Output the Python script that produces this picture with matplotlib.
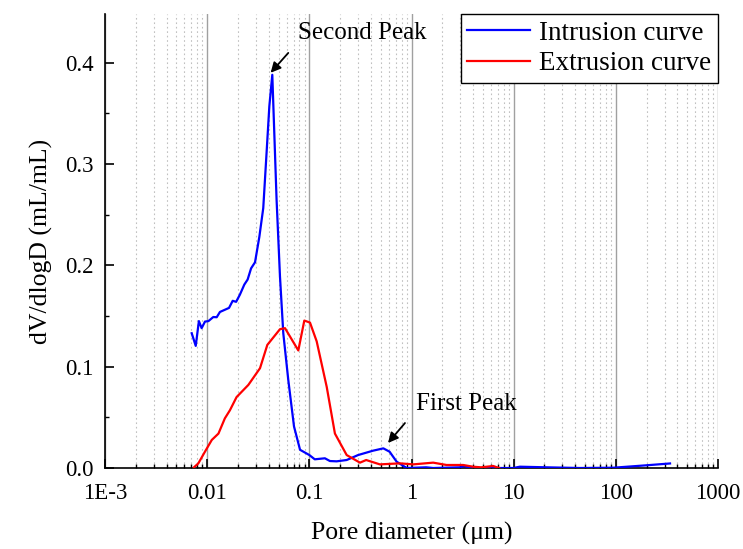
import matplotlib
matplotlib.use("Agg")
import matplotlib.pyplot as plt
from matplotlib.ticker import FixedLocator, LogLocator, MultipleLocator, NullFormatter

plt.rcParams['font.family'] = ['Liberation Serif', 'DejaVu Serif']
plt.rcParams['mathtext.fontset'] = 'stix'

# Intrusion curve: pore diameter (um) and dV/dlogD (mL/mL)
intrusion_d = [0.00706, 0.00773, 0.0083, 0.00883, 0.00952, 0.0103, 0.01148, 0.0124,
               0.01334, 0.01637, 0.01778, 0.0192, 0.0209, 0.0231, 0.0249, 0.0269,
               0.0294, 0.0324, 0.0354, 0.0383, 0.0406, 0.0434, 0.0478, 0.0516,
               0.0556, 0.0622, 0.0708, 0.0811, 0.1, 0.113, 0.142, 0.159, 0.185,
               0.232, 0.30, 0.42, 0.53, 0.61, 0.716, 0.898, 1.39, 1.63, 3.0, 3.3,
               3.7, 9.9, 11.5, 20.9, 44.6, 94.4, 200, 339]
intrusion_v = [0.133, 0.1205, 0.145, 0.138, 0.1445, 0.145, 0.149, 0.1488,
               0.154, 0.158, 0.165, 0.164, 0.171, 0.181, 0.186, 0.197,
               0.203, 0.228, 0.2565, 0.314, 0.357, 0.388, 0.2647, 0.189,
               0.133, 0.087, 0.041, 0.018, 0.0128, 0.0086, 0.0096, 0.0069, 0.0066,
               0.0079, 0.0128, 0.0171, 0.0194, 0.0161, 0.0062, 0.0, 0.0007, 0.0, 0.0007, 0.002,
               0.0, 0.0, 0.0013, 0.0007, 0.0, 0.0003, 0.0027, 0.0045]

# Extrusion curve
extrusion_d = [0.00743, 0.0082, 0.0095, 0.0111, 0.0129, 0.0149, 0.0167, 0.0194,
               0.0253, 0.0329, 0.0388, 0.0516, 0.0578, 0.078, 0.0893, 0.1015,
               0.118, 0.148, 0.178, 0.232, 0.313, 0.36, 0.49, 0.77, 1.04, 1.63,
               2.2, 3.2, 4.0, 4.8, 6.3, 7.2]
extrusion_v = [0.0007, 0.0046, 0.016, 0.0277, 0.034, 0.049, 0.057, 0.070,
               0.082, 0.0985, 0.1215, 0.137, 0.138, 0.116, 0.1455, 0.1435,
               0.125, 0.080, 0.034, 0.0128, 0.0053, 0.0079, 0.0036, 0.0046, 0.0036, 0.0053,
               0.003, 0.003, 0.0013, 0.0007, 0.002, 0.0]

x_ticks = [1e-3, 1e-2, 1e-1, 1, 10, 100, 1000]
x_tick_labels = ["1E-3", "0.01", "0.1", "1", "10", "100", "1000"]
y_ticks = [0.0, 0.1, 0.2, 0.3, 0.4]
y_tick_labels = ["0.0", "0.1", "0.2", "0.3", "0.4"]

fig = plt.figure(figsize=(7.43, 5.49), dpi=100)
ax = fig.add_axes([0.1413, 0.1475, 0.8251, 0.827])

ax.plot(intrusion_d, intrusion_v, color='#0000ff', lw=1.6, label='Intrusion curve', zorder=3)
ax.plot(extrusion_d, extrusion_v, color='#ff0000', lw=1.6, label='Extrusion curve', zorder=3)

ax.set_xscale('log')
ax.set_xlim(1e-3, 1000)
ax.set_ylim(0, 0.448)

ax.xaxis.set_major_locator(FixedLocator(x_ticks))
ax.set_xticklabels(x_tick_labels)
ax.xaxis.set_minor_locator(LogLocator(base=10, subs=range(2, 10), numticks=20))
ax.xaxis.set_minor_formatter(NullFormatter())
ax.set_yticks(y_ticks)
ax.set_yticklabels(y_tick_labels)
ax.yaxis.set_minor_locator(MultipleLocator(0.05))

ax.grid(which='major', axis='x', color='#a0a0a0', lw=1.0, ls='-')
ax.grid(which='minor', axis='x', color='#c0c0c0', lw=0.8, ls=(0, (1.5, 2.5)))
ax.set_axisbelow(True)

for side in ('top', 'right'):
    ax.spines[side].set_visible(False)
for side in ('left', 'bottom'):
    ax.spines[side].set_linewidth(1.2)

ax.tick_params(which='major', direction='in', length=6.5, width=1.2, labelsize=16.5)
ax.tick_params(which='minor', direction='in', length=3.2, width=1.0)
ax.tick_params(axis='x', which='major', pad=11)
ax.tick_params(axis='y', which='major', pad=8)

ax.set_xlabel('Pore diameter (μm)', fontsize=18.5, labelpad=13)
ax.set_ylabel('dV/dlogD (mL/mL)', fontsize=18.5, labelpad=9)

ax.annotate('Second Peak', xy=(0.0418, 0.390), xytext=(0.327, 0.4296),
            fontsize=18, ha='center', va='center')
ax.annotate('', xy=(0.0418, 0.390), xytext=(0.0622, 0.4096),
            arrowprops=dict(arrowstyle='-|>', color='black', lw=1.3, mutation_scale=15,
                            shrinkA=0, shrinkB=0))
ax.annotate('First Peak', xy=(0.589, 0.0247), xytext=(3.41, 0.063),
            fontsize=18, ha='center', va='center')
ax.annotate('', xy=(0.589, 0.0247), xytext=(0.863, 0.0444),
            arrowprops=dict(arrowstyle='-|>', color='black', lw=1.3, mutation_scale=15,
                            shrinkA=0, shrinkB=0))

leg = ax.legend(loc='upper right', fontsize=19.5, frameon=True, fancybox=False,
                edgecolor='black', borderaxespad=0, handlelength=2.3,
                labelspacing=0.2, borderpad=0.25, handletextpad=0.35)
leg.get_frame().set_linewidth(1.0)
leg.get_frame().set_alpha(1)

fig.savefig('out.png', dpi=100)
